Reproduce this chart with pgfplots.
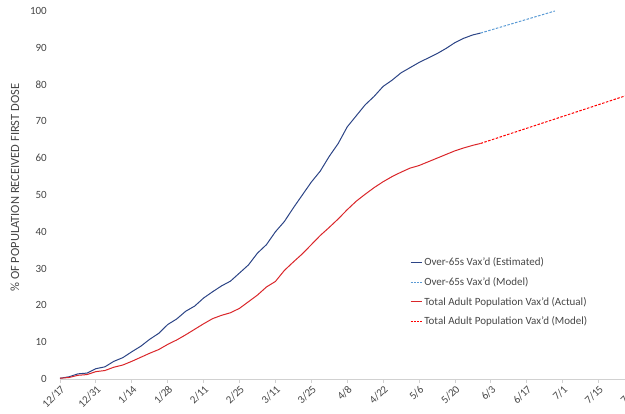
\documentclass[border=0pt]{standalone}
\usepackage{pgfplots}
\pgfplotsset{compat=1.18}
\usepackage{fontspec}
\setmainfont{Carlito}
\definecolor{NavyLine}{RGB}{44,68,134}
\definecolor{LightBlueDash}{RGB}{91,155,213}
\definecolor{RedLine}{RGB}{218,38,42}
\definecolor{RedDash}{RGB}{255,0,0}
\definecolor{txt}{RGB}{70,70,70}
\begin{document}
\begin{tikzpicture}
\begin{axis}[
  scale only axis,
  width=574.4pt, height=368pt,
  xmin=0, xmax=224, ymin=0, ymax=100,
  enlargelimits=false,
  /pgf/number format/assume math mode=true,
  font=\fontsize{11}{13}\selectfont,
  axis lines=left,
  axis line style={-},
  y axis line style={draw=none},
  x axis line style={draw=black!18, line width=0.8pt},
  ytick={0,10,...,100},
  ytick style={draw=none},
  yticklabel style={anchor=east, inner sep=0pt, xshift=-9pt, text=txt},
  xtick={0,14,...,224},
  xticklabels={12/17,12/31,1/14,1/28,2/11,2/25,3/11,3/25,4/8,4/22,5/6,5/20,6/3,6/17,7/1,7/15,7/29},
  tick align=outside,
  major tick length=4pt,
  xtick style={draw=black!18, line width=0.8pt},
  xticklabel style={rotate=45, anchor=north east, inner sep=1pt, text=txt},
  every axis y label/.style={at={(axis description cs:-0.0783,0.52)}, rotate=90, anchor=center},
  ylabel={\% OF POPULATION RECEIVED FIRST DOSE},
  ylabel style={text=txt, font=\fontsize{12.5}{14}\selectfont},
  legend style={at={(axis description cs:0.609,0.335)}, anchor=north west, draw=none, fill=none,
    font=\fontsize{11}{13}\selectfont, row sep=6pt, inner sep=0pt, text=txt},
  legend cell align=left,
  legend image code/.code={\draw[#1] (0pt,0pt) -- (11pt,0pt);},
]
\addplot[NavyLine, line width=1pt, forget plot] coordinates {
(0,0.2) (3.5,0.6) (7,1.4) (10.5,1.6) (14,2.8) (17.5,3.3) (21,4.8) (24.5,5.8)
(28,7.4) (31.5,8.9) (35,10.8) (38.5,12.4) (42,14.8) (45.5,16.3) (49,18.4) (52.5,19.8)
(56,22.0) (59.5,23.7) (63,25.3) (66.5,26.6) (70,28.8) (73.5,31.0) (77,34.2) (80.5,36.5)
(84,40.0) (87.5,42.8) (91,46.5) (94.5,50.0) (98,53.5) (101.5,56.5) (105,60.5) (108.5,64.0)
(112,68.5) (115.5,71.5) (119,74.5) (122.5,76.8) (126,79.5) (129.5,81.2) (133,83.2) (136.5,84.6)
(140,86.0) (143.5,87.2) (147,88.4) (150.5,89.8) (154,91.4) (157.5,92.6) (161,93.5) (164,94.0)
};
\addplot[LightBlueDash, line width=1pt, dash pattern=on 2.5pt off 1.5pt, forget plot] coordinates {
(164,94.0) (193,100)
};
\addplot[RedLine, line width=1pt, forget plot] coordinates {
(0,0.2) (3.5,0.4) (7,1.0) (10.5,1.2) (14,2.0) (17.5,2.3) (21,3.2) (24.5,3.8)
(28,4.8) (31.5,5.9) (35,7.0) (38.5,8.0) (42,9.4) (45.5,10.6) (49,12.0) (52.5,13.5)
(56,15.0) (59.5,16.4) (63,17.3) (66.5,18.0) (70,19.2) (73.5,21.0) (77,22.8) (80.5,25.0)
(84,26.5) (87.5,29.5) (91,31.8) (94.5,34.0) (98,36.5) (101.5,39.0) (105,41.2) (108.5,43.5)
(112,46.0) (115.5,48.3) (119,50.2) (122.5,52.0) (126,53.6) (129.5,55.0) (133,56.2) (136.5,57.3)
(140,58.0) (143.5,59.0) (147,60.0) (150.5,61.0) (154,62.0) (157.5,62.8) (161,63.5) (164,64.0)
};
\addplot[RedDash, line width=1pt, dash pattern=on 2.5pt off 1.5pt, forget plot] coordinates {
(164,64.0) (224,77.75)
};
\addlegendimage{color=NavyLine, line width=1.3pt}
\addlegendentry{Over-65s Vax'd (Estimated)}
\addlegendimage{color=LightBlueDash, line width=1.3pt, dash pattern=on 2pt off 1.2pt}
\addlegendentry{Over-65s Vax'd (Model)}
\addlegendimage{color=RedLine, line width=1.3pt}
\addlegendentry{Total Adult Population Vax'd (Actual)}
\addlegendimage{color=RedDash, line width=1.3pt, dash pattern=on 2pt off 1.2pt}
\addlegendentry{Total Adult Population Vax'd (Model)}
\end{axis}
\pgfresetboundingbox
\useasboundingbox (-60pt,-35pt) rectangle (565pt,379pt);
\end{tikzpicture}
\end{document}
